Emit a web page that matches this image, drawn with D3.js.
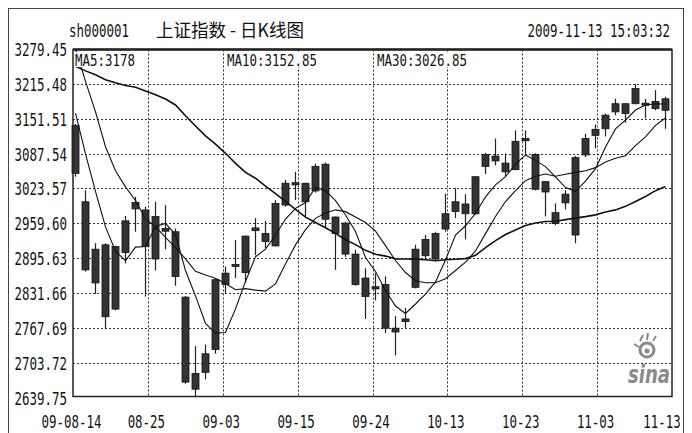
<!DOCTYPE html>
<html><head><meta charset="utf-8">
<script src="https://cdn.jsdelivr.net/npm/d3@7"></script>
<style>body{margin:0;background:#fff}svg{display:block}</style>
</head><body>
<svg id="c" width="692" height="433"></svg>
<script>
// ---------------- data ----------------
const dates = ["08-14","08-17","08-18","08-19","08-20","08-21","08-24","08-25","08-26","08-27",
"08-28","08-31","09-01","09-02","09-03","09-04","09-07","09-08","09-09","09-10",
"09-11","09-14","09-15","09-16","09-17","09-18","09-21","09-22","09-23","09-24",
"09-25","09-28","09-29","09-30","10-09","10-12","10-13","10-14","10-15","10-16",
"10-19","10-20","10-21","10-22","10-23","10-26","10-27","10-28","10-29","10-30",
"11-02","11-03","11-04","11-05","11-06","11-09","11-10","11-11","11-12","11-13"];
const openV = [3139,2999,2850,2920,2802,2906,2986,2984,2894,2950,
2944,2824,2655,2686,2728,2847,2881,2869,2951,2941,
2918,2993,3030,3033,3019,3068,2971,2960,2903,2859,
2843,2847,2767,2784,2842,2900,2894,2949,2981,2995,
2977,3064,3083,3070,3058,3111,3086,3036,2979,2997,
2938,3085,3121,3133,3164,3179,3179,3180,3183,3167];
const highV = [3142,3020,2923,2923,2918,2973,3008,2990,2999,2993,
2950,2826,2734,2737,2858,2880,2929,2937,2969,2964,
3002,3039,3054,3034,3069,3071,2972,2962,2911,2877,
2868,2862,2789,2804,2920,2938,2944,3014,3024,3013,
3046,3089,3115,3088,3130,3130,3088,3037,2996,3020,
3083,3124,3141,3161,3188,3180,3215,3188,3204,3192];
const lowV = [3045,2871,2830,2765,2800,2886,2944,2825,2873,2912,
2845,2665,2640,2673,2720,2831,2859,2850,2901,2914,
2917,2990,3002,2972,3016,2950,2874,2898,2845,2784,
2818,2758,2717,2767,2840,2895,2892,2944,2969,2930,
2975,3050,3066,3046,3057,3086,3020,2972,2956,2985,
2923,3081,3097,3119,3158,3144,3178,3152,3167,3133];
const closeV = [3051,2874,2912,2788,2917,2964,2998,2917,2972,2945,
2862,2668,2684,2720,2856,2868,2884,2936,2946,2926,
2996,3033,3034,2999,3064,2967,2941,2903,2847,2825,
2839,2767,2760,2779,2912,2930,2941,2977,2999,2977,
3045,3086,3074,3054,3110,3115,3022,3017,2959,3013,
3080,3115,3132,3158,3179,3161,3207,3178,3170,3188];
const ma5 = [3161.8,3087.0,3018.0,2953.0,2908.4,2891.0,2915.8,2916.8,2953.6,2959.2,
2938.8,2872.8,2826.2,2775.8,2758.0,2759.2,2802.4,2852.8,2898.0,2912.0,
2937.6,2967.4,2987.0,2997.6,3025.2,3019.4,3001.0,2974.8,2944.4,2896.6,
2871.0,2836.2,2807.6,2794.0,2811.4,2829.6,2852.0,2892.0,2938.0,2955.0,
2978.0,3008.0,3030.0,3045.0,3068.0,3085.0,3075.0,3063.6,3044.6,3025.2,
3018.2,3036.8,3059.8,3099.6,3132.8,3149.0,3167.4,3176.6,3179.0,3178.0];
const ma10 = [3279.45,3219.9,3164.0,3100.0,3056.1,3026.4,3001.4,2967.4,2953.3,2933.8,
2914.9,2894.3,2871.5,2864.7,2858.6,2849.0,2837.6,2839.5,2836.9,2835.0,
2848.4,2884.9,2919.9,2947.8,2968.6,2978.5,2984.2,2980.9,2971.0,2960.9,
2945.2,2918.6,2891.2,2869.2,2854.0,2850.3,2850.3,2857.7,2872.9,2888.1,
2908.7,2940.6,2972.0,2999.5,3019.3,3037.8,3045.9,3049.9,3045.9,3049.5,
3053.0,3055.9,3061.7,3072.1,3079.0,3083.6,3102.1,3118.2,3139.3,3152.85];
const ma30 = [3247.7,3239.3,3232.3,3223.2,3217.4,3212.5,3209.4,3202.4,3195.5,3187.6,
3176.7,3156.8,3138.2,3120.0,3104.8,3088.0,3069.6,3053.0,3042.3,3027.9,
3014.0,2999.7,2985.1,2970.8,2961.1,2951.3,2941.1,2929.3,2920.4,2909.9,
2902.8,2899.3,2894.2,2893.9,2893.7,2892.6,2890.7,2892.7,2893.6,2894.7,
2900.8,2914.7,2927.7,2938.8,2947.3,2955.5,2960.1,2962.8,2963.3,2966.2,
2969.0,2971.7,2975.0,2980.3,2984.1,2990.6,2999.4,3008.6,3019.4,3026.85];
const yTicks = [2639.75,2703.72,2767.69,2831.66,2895.63,2959.60,3023.57,3087.54,3151.51,3215.48,3279.45];
const xTickLabels = ["09-08-14","08-25","09-03","09-15","09-24","10-13","10-23","11-03","11-13"];
const maLabels = ["MA5:3178","MA10:3152.85","MA30:3026.85"];
const symbol = "sh000001";
const title = "上证指数 - 日K线图";
const stamp = "2009-11-13 15:03:32";

// ---------------- layout ----------------
const svg = d3.select("#c");
const P = {l:73, r:672, t:49.5, b:396.5};
const x = d3.scalePoint().domain(dates).range([75.5, 665.5]);
const y = d3.scaleLinear().domain([2639.75, 3279.45]).range([397.5, 49]);
const gx = d3.scaleLinear().domain([0, xTickLabels.length-1]).range([P.l, P.r]);
const MONO = "'DejaVu Sans Mono','Liberation Mono',monospace";
const CW = 7.5; // char width

function mono(g, xx, yy, s, size, anchor){
  return g.append("text").attr("x", xx).attr("y", yy)
    .attr("font-family", MONO).attr("font-size", size)
    .attr("text-anchor", anchor||"start")
    .attr("textLength", s.length*CW).attr("lengthAdjust","spacingAndGlyphs")
    .attr("fill","#111").text(s);
}

// outer frame
svg.append("rect").attr("x",8.5).attr("y",8.5).attr("width",675).attr("height",440)
  .attr("fill","none").attr("stroke","#444").attr("stroke-width",1);

// header
mono(svg, 69, 37, symbol, 17);
svg.append("text").attr("x",156).attr("y",37)
  .attr("font-family","'Noto Sans CJK SC',sans-serif").attr("font-size",18)
  .attr("textLength",148).attr("lengthAdjust","spacingAndGlyphs")
  .attr("fill","#111").text(title);
mono(svg, 670, 37, stamp, 17, "end");

// gridlines
const grid = svg.append("g").attr("stroke","#333").attr("stroke-width",1).attr("stroke-dasharray","2,2");
grid.selectAll("line.h").data(yTicks.slice(1,-1)).join("line")
  .attr("x1",P.l).attr("x2",P.r)
  .attr("y1",d=>Math.round(y(d))+0.5).attr("y2",d=>Math.round(y(d))+0.5);
grid.selectAll("line.v").data(d3.range(1, xTickLabels.length-1)).join("line")
  .attr("x1",d=>Math.round(gx(d))+0.5).attr("x2",d=>Math.round(gx(d))+0.5)
  .attr("y1",P.t).attr("y2",P.b);

// y labels
yTicks.forEach(v=>{ mono(svg, 67, y(v)+7, v.toFixed(2), 18.5, "end"); });
// x labels
xTickLabels.forEach((s,i)=>{
  let cx = gx(i) - 1.5;
  if (i === xTickLabels.length-1) cx = 662;
  mono(svg, cx, 428, s, 18.5, "middle");
});

// sina logo
const logo = svg.append("g").attr("fill","#8a8a8a");
logo.append("circle").attr("cx",647).attr("cy",350).attr("r",7).attr("fill","none").attr("stroke","#8a8a8a").attr("stroke-width",3);
logo.append("circle").attr("cx",647).attr("cy",351).attr("r",2.5);
logo.append("path").attr("d","M640 341 L643 335 M647 340 L648 333 M653 341 L656 336 M639 347 L634 344")
  .attr("stroke","#8a8a8a").attr("stroke-width",2);
logo.append("text").attr("x",628).attr("y",383).attr("font-family","'DejaVu Sans',sans-serif")
  .attr("font-size",24).attr("font-weight","bold").attr("font-style","italic")
  .attr("textLength",42).attr("lengthAdjust","spacingAndGlyphs").text("sina");

// candles
const cg = svg.append("g");
const bw = 7;
cg.selectAll("line.w").data(dates).join("line")
  .attr("x1",d=>x(d)).attr("x2",d=>x(d))
  .attr("y1",(d,i)=>y(highV[i])).attr("y2",(d,i)=>y(lowV[i]))
  .attr("stroke","#222").attr("stroke-width",1.2);
cg.selectAll("rect.b").data(dates).join("rect")
  .attr("x",d=>x(d)-bw/2)
  .attr("y",(d,i)=>y(Math.max(openV[i],closeV[i])))
  .attr("width",bw)
  .attr("height",(d,i)=>Math.max(2, y(Math.min(openV[i],closeV[i]))-y(Math.max(openV[i],closeV[i]))))
  .attr("fill","#333").attr("stroke","#111").attr("stroke-width",0.8);

// moving averages
const line = arr => d3.line().x((d,i)=>x(dates[i])).y(d=>y(d))(arr);
svg.append("path").attr("d",line(ma30)).attr("fill","none").attr("stroke","#111").attr("stroke-width",1.6);
svg.append("path").attr("d",line(ma10)).attr("fill","none").attr("stroke","#111").attr("stroke-width",1.1);
svg.append("path").attr("d",line(ma5)).attr("fill","none").attr("stroke","#111").attr("stroke-width",1.1);

// plot frame
svg.append("rect").attr("x",P.l).attr("y",P.t).attr("width",P.r-P.l).attr("height",P.b-P.t)
  .attr("fill","none").attr("stroke","#222").attr("stroke-width",1.5);
svg.append("line").attr("x1",P.l).attr("x2",P.r).attr("y1",P.t).attr("y2",P.t).attr("stroke","#222").attr("stroke-width",2.5);

// MA labels
const labX = [75, 227, 377];
maLabels.forEach((s,i)=>{
  svg.append("rect").attr("x",labX[i]).attr("y",52).attr("width",s.length*CW).attr("height",15).attr("fill","#fff");
  mono(svg, labX[i], 66, s, 16.5);
});
</script>
</body></html>
